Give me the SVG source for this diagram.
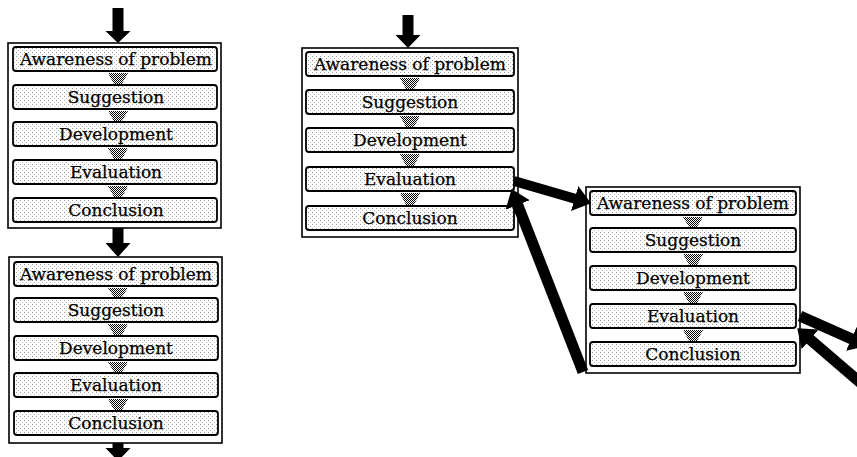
<svg xmlns="http://www.w3.org/2000/svg" width="857" height="457" viewBox="0 0 857 457">
<style>
.outer{fill:#fff;stroke:#000;stroke-width:1.6}
.box{fill:url(#dots);stroke:#000;stroke-width:1.8}
.lbl{font-family:"DejaVu Serif","Liberation Serif",serif;font-size:17px;fill:#000;stroke:#000;stroke-width:0.25;text-anchor:middle}
.step{fill:url(#chk);stroke:none}
.fat{stroke:#000;fill:none;stroke-linecap:butt}
.blk{fill:#000}
</style>
<defs>
<pattern id="dots" width="4" height="4" patternUnits="userSpaceOnUse"><rect width="4" height="4" fill="#fff"/><rect width="1" height="1" fill="#999"/><rect x="2" y="2" width="1" height="1" fill="#bbb"/></pattern>
<pattern id="chk" width="2" height="2" patternUnits="userSpaceOnUse"><rect width="2" height="2" fill="#fff"/><rect width="1" height="1" fill="#000"/><rect x="1" y="1" width="1" height="1" fill="#000"/></pattern>
<marker id="head" markerUnits="userSpaceOnUse" markerWidth="18" markerHeight="26" refX="4" refY="13" orient="auto" viewBox="0 0 18 26"><path d="M0,0 L17,13 L0,26 z" fill="#000"/></marker>
</defs>

<g id="block1">
<rect class="outer" x="8" y="43" width="213" height="185"/>
<rect class="box" x="13" y="47" width="204" height="24" rx="3"/><text class="lbl" x="116" y="65">Awareness of problem</text>
<rect class="box" x="13" y="85" width="204" height="24" rx="3"/><text class="lbl" x="116" y="103">Suggestion</text>
<rect class="box" x="13" y="122" width="204" height="24" rx="3"/><text class="lbl" x="116" y="140">Development</text>
<rect class="box" x="13" y="160" width="204" height="24" rx="3"/><text class="lbl" x="116" y="178">Evaluation</text>
<rect class="box" x="13" y="198" width="204" height="24" rx="3"/><text class="lbl" x="116" y="216">Conclusion</text>
</g>

<g id="block2">
<rect class="outer" x="9" y="257" width="213" height="186"/>
<rect class="box" x="14" y="262" width="204" height="24" rx="3"/><text class="lbl" x="116" y="280">Awareness of problem</text>
<rect class="box" x="14" y="298" width="204" height="24" rx="3"/><text class="lbl" x="116" y="316">Suggestion</text>
<rect class="box" x="14" y="336" width="204" height="24" rx="3"/><text class="lbl" x="116" y="354">Development</text>
<rect class="box" x="14" y="373" width="204" height="24" rx="3"/><text class="lbl" x="116" y="391">Evaluation</text>
<rect class="box" x="14" y="411" width="204" height="24" rx="3"/><text class="lbl" x="116" y="429">Conclusion</text>
</g>

<g id="block3">
<rect class="outer" x="302" y="48" width="216" height="189"/>
<rect class="box" x="306" y="52" width="208" height="24" rx="3"/><text class="lbl" x="410" y="70">Awareness of problem</text>
<rect class="box" x="306" y="90" width="208" height="24" rx="3"/><text class="lbl" x="410" y="108">Suggestion</text>
<rect class="box" x="306" y="128" width="208" height="24" rx="3"/><text class="lbl" x="410" y="146">Development</text>
<rect class="box" x="306" y="167" width="208" height="24" rx="3"/><text class="lbl" x="410" y="185">Evaluation</text>
<rect class="box" x="306" y="206" width="208" height="24" rx="3"/><text class="lbl" x="410" y="224">Conclusion</text>
</g>

<g id="block4">
<rect class="outer" x="586" y="187" width="214" height="186"/>
<rect class="box" x="590" y="191" width="206" height="24" rx="3"/><text class="lbl" x="693" y="209">Awareness of problem</text>
<rect class="box" x="590" y="228" width="206" height="24" rx="3"/><text class="lbl" x="693" y="246">Suggestion</text>
<rect class="box" x="590" y="266" width="206" height="24" rx="3"/><text class="lbl" x="693" y="284">Development</text>
<rect class="box" x="590" y="304" width="206" height="24" rx="3"/><text class="lbl" x="693" y="322">Evaluation</text>
<rect class="box" x="590" y="342" width="206" height="24" rx="3"/><text class="lbl" x="693" y="360">Conclusion</text>
</g>

<g id="connectors">
<polygon class="step" points="108,73 128,73 122,84 114,84"/>
<polygon class="step" points="108,111 128,111 122,121 114,121"/>
<polygon class="step" points="108,148 128,148 122,159 114,159"/>
<polygon class="step" points="108,186 128,186 122,197 114,197"/>

<polygon class="step" points="108,288 128,288 122,297 114,297"/>
<polygon class="step" points="108,324 128,324 122,335 114,335"/>
<polygon class="step" points="108,362 128,362 122,372 114,372"/>
<polygon class="step" points="108,399 128,399 122,410 114,410"/>

<polygon class="step" points="400,78 420,78 414,89 406,89"/>
<polygon class="step" points="400,116 420,116 414,127 406,127"/>
<polygon class="step" points="400,154 420,154 414,166 406,166"/>
<polygon class="step" points="400,193 420,193 414,205 406,205"/>

<polygon class="step" points="683,217 703,217 697,227 689,227"/>
<polygon class="step" points="683,254 703,254 697,265 689,265"/>
<polygon class="step" points="683,292 703,292 697,303 689,303"/>
<polygon class="step" points="683,330 703,330 697,341 689,341"/>

<polygon class="blk" points="112.5,8 123.5,8 123.5,31 130.5,31 118,43 105.5,31 112.5,31"/>
<polygon class="blk" points="112.5,228 123.5,228 123.5,243 130.5,243 118,257 105.5,243 112.5,243"/>
<polygon class="blk" points="112.5,443 123.5,443 123.5,448 130.5,448 118,461 105.5,448 112.5,448"/>
<polygon class="blk" points="402.5,15 413.5,15 413.5,35 420.5,35 408,48 395.5,35 402.5,35"/>

<line class="fat" x1="514" y1="181" x2="578.5" y2="199.7" stroke-width="10" marker-end="url(#head)"/>
<line class="fat" x1="583" y1="372" x2="516.3" y2="201.2" stroke-width="11" marker-end="url(#head)"/>
<line class="fat" x1="800" y1="316" x2="855" y2="340.5" stroke-width="11" marker-end="url(#head)"/>
<line class="fat" x1="862" y1="384" x2="807.1" y2="336.8" stroke-width="11" marker-end="url(#head)"/>
</g>
</svg>
